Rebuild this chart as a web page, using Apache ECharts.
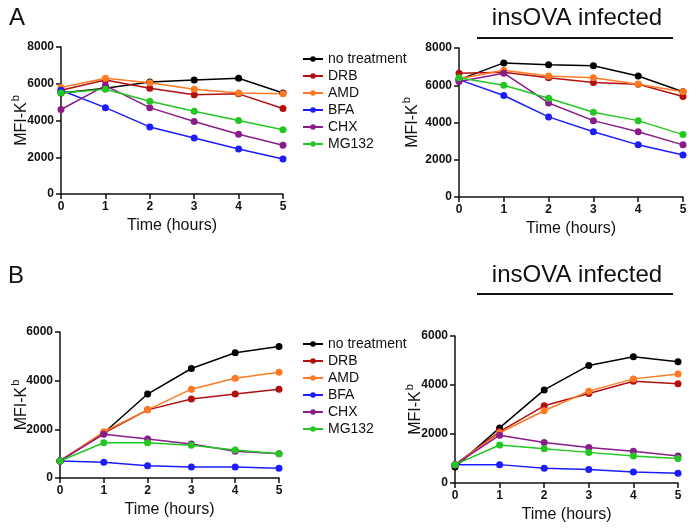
<!DOCTYPE html>
<html>
<head>
<meta charset="utf-8">
<script src="https://cdn.jsdelivr.net/npm/echarts@6.0.0/dist/echarts.min.js"></script>
<style>
  html, body { margin: 0; padding: 0; background: #fff; }
  #chart { width: 694px; height: 531px; }
</style>
</head>
<body>
<div id="chart"></div>
<script>
// time points and treatments
const hours = [0, 1, 2, 3, 4, 5]
const treatments = ['no treatment', 'DRB', 'AMD', 'BFA', 'CHX', 'MG132']
const colors = ['#000000', '#b0100f', '#ff7a22', '#1c1cff', '#8a1c8a', '#22c722']

// panel A, uninfected (rows follow treatments)
const panelAMock = [
  [5500, 5750, 6100, 6200, 6300, 5500],
  [5650, 6200, 5750, 5400, 5450, 4650],
  [5800, 6300, 6050, 5700, 5500, 5450],
  [5650, 4700, 3650, 3050, 2450, 1900],
  [4600, 5900, 4700, 3950, 3250, 2650],
  [5500, 5700, 5050, 4500, 4000, 3500]
]
// panel A, insOVA infected
const panelAInfected = [
  [6300, 7200, 7100, 7050, 6500, 5650],
  [6650, 6700, 6400, 6150, 6050, 5400],
  [6350, 6800, 6500, 6400, 6050, 5650],
  [6300, 5450, 4300, 3500, 2800, 2250],
  [6200, 6650, 5050, 4100, 3500, 2800],
  [6400, 6000, 5300, 4550, 4100, 3350]
]
// panel B, uninfected
const panelBMock = [
  [700, 1850, 3450, 4500, 5150, 5400],
  [700, 1850, 2800, 3250, 3450, 3650],
  [700, 1900, 2800, 3650, 4100, 4350],
  [700, 650, 500, 450, 450, 400],
  [700, 1800, 1600, 1400, 1100, 1000],
  [700, 1450, 1450, 1350, 1150, 1000]
]
// panel B, insOVA infected
const panelBInfected = [
  [650, 2250, 3800, 4800, 5150, 4950],
  [750, 2100, 3150, 3650, 4150, 4050],
  [750, 2050, 2950, 3750, 4250, 4450],
  [750, 750, 600, 550, 450, 400],
  [750, 1950, 1650, 1450, 1300, 1100],
  [750, 1550, 1400, 1250, 1100, 1000]
]
const xTicks = [0, 5, 1]      // min, max, interval
const yTicksA = [0, 8000, 2000]
const yTicksB = [0, 6000, 2000]

const font = 'Liberation Sans, Arial, sans-serif'
const ink = '#111'

const panels = [
  { data: panelAMock, y: yTicksA, grid: { left: 61, top: 47, width: 222, height: 147 }, nameGap: 31 },
  { data: panelAInfected, y: yTicksA, grid: { left: 459, top: 48, width: 224, height: 149 }, nameGap: 38 },
  { data: panelBMock, y: yTicksB, grid: { left: 60, top: 332, width: 219, height: 146 }, nameGap: 30 },
  { data: panelBInfected, y: yTicksB, grid: { left: 455, top: 336, width: 223, height: 147 }, nameGap: 31 }
]

const axisCommon = {
  axisLine: { lineStyle: { color: ink, width: 1.5 } },
  axisTick: { length: 5, lineStyle: { color: ink, width: 1.5 } },
  axisLabel: {
    margin: 7, fontSize: 12, fontWeight: 'bold', color: ink, fontFamily: font,
    formatter: v => String(v)
  },
  splitLine: { show: false },
  nameMoveOverlap: false
}

const grids = []
const xAxes = []
const yAxes = []
const series = []

panels.forEach((p, i) => {
  grids.push(p.grid)
  xAxes.push(Object.assign({
    gridIndex: i,
    type: 'value',
    min: xTicks[0],
    max: xTicks[1],
    interval: xTicks[2],
    name: 'Time (hours)',
    nameLocation: 'middle',
    nameGap: 24,
    nameTextStyle: { fontSize: 16, color: ink, fontFamily: font }
  }, axisCommon))
  yAxes.push(Object.assign({
    gridIndex: i,
    type: 'value',
    min: p.y[0],
    max: p.y[1],
    interval: p.y[2],
    name: '{a|MFI-K}{s|b}',
    nameLocation: 'middle',
    nameGap: p.nameGap,
    nameTextStyle: {
      color: ink,
      fontFamily: font,
      rich: {
        a: { fontSize: 16, color: ink, fontFamily: font, lineHeight: 20, verticalAlign: 'bottom' },
        s: { fontSize: 11, color: ink, fontFamily: font, lineHeight: 11, verticalAlign: 'top', padding: [0, 0, 0, 1] }
      }
    }
  }, axisCommon))
  p.data.forEach((vals, k) => {
    series.push({
      name: treatments[k],
      type: 'line',
      xAxisIndex: i,
      yAxisIndex: i,
      data: hours.map((h, j) => [h, vals[j]]),
      symbol: 'circle',
      symbolSize: 7,
      color: colors[k],
      lineStyle: { width: 1.5 },
      animation: false
    })
  })
})

const legendCommon = {
  orient: 'vertical',
  left: 297,
  data: treatments,
  itemWidth: 20,
  itemHeight: 7,
  itemGap: 3,
  selectedMode: false,
  textStyle: { fontSize: 14, color: ink, fontFamily: font }
}

const chart = echarts.init(document.getElementById('chart'))
chart.setOption({
  backgroundColor: '#fff',
  animation: false,
  grid: grids,
  xAxis: xAxes,
  yAxis: yAxes,
  series: series,
  legend: [
    Object.assign({ top: 47 }, legendCommon),
    Object.assign({ top: 332 }, legendCommon)
  ],
  graphic: [
    { type: 'text', left: 9, top: 6, style: { text: 'A', fontSize: 24, fill: ink, fontFamily: font } },
    { type: 'text', left: 8, top: 264, style: { text: 'B', fontSize: 24, fill: ink, fontFamily: font } },
    { type: 'text', x: 577, y: 18, style: { text: 'insOVA infected', fontSize: 24, fill: ink, fontFamily: font, align: 'center', verticalAlign: 'middle' } },
    { type: 'text', x: 577, y: 275, style: { text: 'insOVA infected', fontSize: 24, fill: ink, fontFamily: font, align: 'center', verticalAlign: 'middle' } },
    { type: 'line', shape: { x1: 477, y1: 38, x2: 673, y2: 38 }, style: { stroke: ink, lineWidth: 2 } },
    { type: 'line', shape: { x1: 477, y1: 294, x2: 673, y2: 294 }, style: { stroke: ink, lineWidth: 2 } }
  ]
})
</script>
</body>
</html>
